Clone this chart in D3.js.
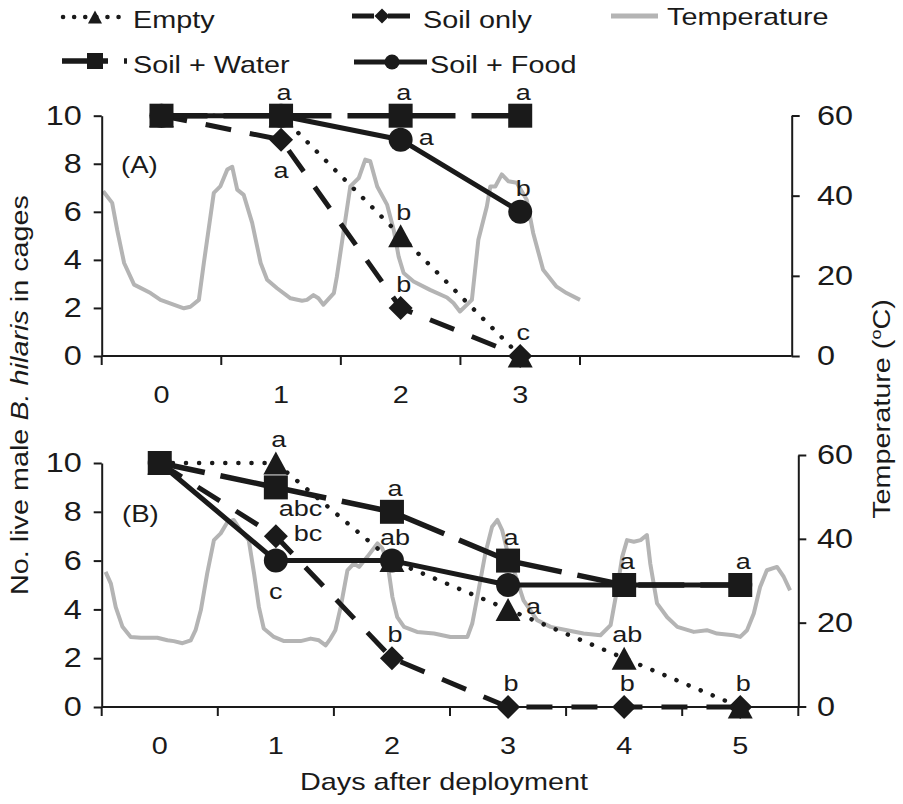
<!DOCTYPE html>
<html><head><meta charset="utf-8">
<script src="https://cdn.jsdelivr.net/npm/d3@7/dist/d3.min.js"></script>
<style>
body{margin:0;background:#fff}
svg{display:block}
text{font-family:"Liberation Sans",Arial,Helvetica,sans-serif;fill:#1a1a1a}
</style>
</head><body>
<svg id="chart" width="903" height="804"></svg>
<script>
// ---------------- DATA ----------------
const daysA = [0, 1, 2, 3];
const daysB = [0, 1, 2, 3, 4, 5];

const emptyA = [10, 10, 5, 0];
const soilA  = [10, 9, 2, 0];
const waterA = [10, 10, 10, 10];
const foodA  = [10, 10, 9, 6];

const emptyB = [10, 10, 6, 4, 2, 0];
const soilB  = [10, 7, 2, 0, 0, 0];
const waterB = [10, 9, 8, 6, 5, 5];
const foodB  = [10, 6, 6, 5, 5, 5];

// significance letters and where they sit relative to the point
const emptyLabA = ["", "", "b", "c"];        const emptyPosA = ["", "", "above", "above"];
const soilLabA  = ["", "a", "b", ""];        const soilPosA  = ["", "below", "above", ""];
const waterLabA = ["", "a", "a", "a"];       const waterPosA = ["", "above", "above", "above"];
const foodLabA  = ["", "", "a", "b"];        const foodPosA  = ["", "", "right", "above"];

const emptyLabB = ["", "a", "", "a", "ab", "b"];   const emptyPosB = ["", "above", "", "right", "above", "above"];
const soilLabB  = ["", "bc", "b", "b", "b", ""];   const soilPosB  = ["", "right", "above", "above", "above", ""];
const waterLabB = ["", "abc", "a", "a", "a", "a"]; const waterPosB = ["", "belowright", "above", "above", "above", "above"];
const foodLabB  = ["", "c", "ab", "", "", ""];     const foodPosB  = ["", "below", "above", "", "", ""];

// temperature (hours from start of deployment, degC)
const tempHoursA = [0.3,2.1,3.1,4.5,6.5,9.8,11.8,16.5,17.8,19.5,20.5,22.5,23.8,25.2,26.2,27.2,28.5,30.2,31.9,33.2,35.2,37.9,40.2,41.2,42.5,43.5,44.5,46.6,47.2,48.6,49.9,51.6,52.9,53.9,55.3,57.3,58.6,59.6,60.6,62.6,65.9,69.3,70.6,71.9,74.3,75.6,77.3,78.0,79.0,80.3,81.6,83.3,85.3,86.6,88.6,91.3,93.3,96.0];
const tempA = [41.1,38.2,31.5,23.2,17.8,15.7,14.0,11.9,12.3,14.0,23.2,40.7,42.3,46.5,47.2,41.5,40.2,33.2,23.2,19.0,16.9,14.4,13.8,14.0,15.2,14.4,12.8,15.7,19.8,31.5,42.3,44.4,49.0,48.6,42.3,37.7,31.5,24.8,20.7,18.6,16.5,14.6,13.2,11.1,14.0,29.0,37.3,42.3,42.3,45.3,43.6,43.2,39.0,30.7,21.5,17.3,15.7,14.0];

const tempHoursB = [0.8,1.9,2.9,4.3,6.0,8.1,11.5,13.6,14.9,16.7,18.4,19.4,20.5,21.8,23.2,24.6,26.0,27.3,28.7,30.4,31.5,32.5,33.5,35.6,37.7,41.1,43.2,44.9,46.3,47.3,48.3,49.4,50.8,52.1,53.2,54.9,57.0,58.0,59.0,60.1,61.1,62.5,65.2,68.7,72.1,75.6,76.6,77.9,79.3,80.7,81.8,82.8,83.8,85.2,87.2,90.0,92.8,96.2,99.6,103.1,105.2,106.5,107.6,108.6,110.0,111.4,112.7,113.4,114.8,116.9,119.0,122.4,125.1,127.2,130.6,132.0,133.4,134.8,136.1,137.5,139.6,141.0,142.3];
const tempB = [32.1,29.3,23.7,19.0,16.6,16.4,16.4,15.8,15.6,15.1,15.8,18.2,23.0,31.7,39.7,41.3,44.0,44.5,42.0,39.7,31.7,23.7,18.6,16.6,15.6,15.6,16.2,15.8,14.6,16.2,18.2,23.7,32.5,34.1,33.3,35.7,38.9,37.7,34.9,26.1,21.3,19.0,17.8,17.4,16.6,16.6,19.8,27.7,36.5,42.9,44.5,42.0,37.3,32.5,25.3,20.6,19.0,18.2,17.4,17.0,19.4,27.7,35.7,39.7,39.3,39.7,40.9,34.1,24.6,21.3,19.0,17.8,18.2,17.4,17.0,16.6,18.2,22.2,28.5,32.5,33.3,30.9,27.7];

const countTicks = [0, 2, 4, 6, 8, 10];
const tempTicks = [0, 20, 40, 60];

const legendNames = ["Empty", "Soil only", "Temperature", "Soil + Water", "Soil + Food"];
const yTitleParts = ["No. live male ", "B. hilaris", " in cages"];
const xTitle = "Days after deployment";

// ---------------- STYLE / HELPERS ----------------
const INK = "#1a1a1a", GRAY = "#b4b4b4", SX = 1.2;
const svg = d3.select("#chart");

const styles = {
  empty: {dash: "0.1 13", width: 4.5, cap: "round", shape: "triangle"},
  soil:  {dash: "26 19", width: 5, cap: "butt", shape: "diamond"},
  water: {dash: "46 16", width: 5.5, cap: "butt", shape: "square"},
  food:  {dash: null, width: 5, cap: "butt", shape: "circle"}
};

function stext(parent, x, y, str, size, anchor) {
  return parent.append("text")
    .attr("transform", `translate(${x},${y}) scale(${SX},1)`)
    .attr("text-anchor", anchor || "start")
    .attr("font-size", size)
    .text(str);
}

function markerPath(shape, s) {
  if (shape === "triangle") { const w = s * 1.04, h = s * 0.96; return `M0,${-h/2}L${w/2},${h/2}L${-w/2},${h/2}Z`; }
  if (shape === "diamond") return `M0,${-s/2}L${s/2},0L0,${s/2}L${-s/2},0Z`;
  if (shape === "square") return `M${-s/2},${-s/2}H${s/2}V${s/2}H${-s/2}Z`;
  const r = s / 2; return `M${r},0A${r},${r} 0 1,1 ${-r},0A${r},${r} 0 1,1 ${r},0Z`;
}
const markerSize = {triangle: 24, diamond: 24, square: 24, circle: 24};

function styleAxis(g) {
  g.attr("font-family", null).attr("font-size", null);
  g.selectAll(".domain").attr("stroke", INK).attr("stroke-width", 2);
  g.selectAll(".tick line").attr("stroke", INK).attr("stroke-width", 2);
  g.selectAll(".tick text").attr("fill", INK).attr("font-size", 27);
}

// ---------------- PANELS ----------------
function drawPanel(cfg) {
  const g = svg.append("g");
  const x = d3.scaleBand().domain(cfg.days).range([cfg.left, cfg.bandRight]);
  const y = d3.scaleLinear().domain([0, 10]).range([cfg.bottom, cfg.top]);
  const yT = d3.scaleLinear().domain([0, 60]).range([cfg.tBottom, cfg.tTop]);
  const xT = d3.scaleLinear().domain([0, cfg.days.length * 24]).range([cfg.left, cfg.bandRight]);

  // temperature trace
  g.append("path")
    .datum(d3.zip(cfg.tempHours, cfg.temp))
    .attr("d", d3.line().x(d => xT(d[0])).y(d => yT(d[1])))
    .attr("fill", "none").attr("stroke", GRAY).attr("stroke-width", 4)
    .attr("stroke-linejoin", "round");

  // left axis
  const ax = g.append("g").attr("transform", `translate(${cfg.left},0)`)
    .call(d3.axisLeft(y).tickValues(countTicks).tickSizeInner(8).tickSizeOuter(0).tickFormat(d3.format("d")));
  styleAxis(ax);
  ax.selectAll(".tick text").attr("x", -20 / SX).attr("transform", `scale(${SX},1)`);

  // right axis
  const ar = g.append("g").attr("transform", `translate(${cfg.right},0)`)
    .call(d3.axisRight(yT).tickValues(tempTicks).tickSizeInner(8).tickSizeOuter(0).tickFormat(d3.format("d")));
  styleAxis(ar);
  ar.selectAll(".tick text").attr("x", (817 - cfg.right) / SX).attr("transform", `scale(${SX},1)`);

  // x axis: line to the secondary axis, ticks at category edges, labels at centres
  g.append("line").attr("x1", cfg.left).attr("x2", cfg.right).attr("y1", cfg.bottom).attr("y2", cfg.bottom)
    .attr("stroke", INK).attr("stroke-width", 2);
  const edges = cfg.days.map(d => x(d)).concat([x.range()[1]]);
  g.selectAll(".xt").data(edges).join("line")
    .attr("x1", d => d).attr("x2", d => d).attr("y1", cfg.bottom).attr("y2", cfg.bottom + 9)
    .attr("stroke", INK).attr("stroke-width", 2);
  cfg.days.forEach(d => stext(g, x(d) + x.bandwidth() / 2, cfg.bottom + 47, String(d), 24, "middle"));

  // panel tag
  stext(g, cfg.tagX, cfg.tagY, cfg.tag, 23, "start");

  // series
  const cx = d => x(d) + x.bandwidth() / 2;
  const order = ["soil", "empty", "food", "water"];
  order.forEach(key => {
    const st = styles[key], vals = cfg.series[key];
    const pts = cfg.days.map((d, i) => [cx(d), y(vals[i])]);
    g.append("path").datum(pts).attr("d", d3.line())
      .attr("fill", "none").attr("stroke", INK).attr("stroke-width", st.width)
      .attr("stroke-dasharray", st.dash).attr("stroke-linecap", st.cap).attr("stroke-linejoin", "round");
    g.selectAll(null).data(pts).join("path")
      .attr("transform", p => `translate(${p[0]},${p[1]})`)
      .attr("d", markerPath(st.shape, markerSize[st.shape])).attr("fill", INK);
  });

  // significance letters
  order.forEach(key => {
    const vals = cfg.series[key], labs = cfg.labels[key], pos = cfg.pos[key];
    cfg.days.forEach((d, i) => {
      if (!labs[i]) return;
      const px = cx(d), py = y(vals[i]);
      let dx = 3, dy = -16, anc = "middle";
      if (pos[i] === "below") { dx = 0; dy = 38; }
      else if (pos[i] === "right") { dx = 18; dy = 5; anc = "start"; }
      else if (pos[i] === "belowright") { dx = 3; dy = 29; anc = "start"; }
      stext(g, px + dx, py + dy, labs[i], 22.5, anc);
    });
  });
}

drawPanel({
  days: daysA, left: 101.7, bandRight: 580, right: 791.7,
  top: 115.7, bottom: 356, tTop: 115.5, tBottom: 356,
  tempHours: tempHoursA, temp: tempA, tag: "(A)", tagX: 121, tagY: 173,
  series: {empty: emptyA, soil: soilA, water: waterA, food: foodA},
  labels: {empty: emptyLabA, soil: soilLabA, water: waterLabA, food: foodLabA},
  pos: {empty: emptyPosA, soil: soilPosA, water: waterPosA, food: foodPosA}
});

drawPanel({
  days: daysB, left: 101.7, bandRight: 798.3, right: 798.3,
  top: 463, bottom: 707, tTop: 455, tBottom: 706.5,
  tempHours: tempHoursB, temp: tempB, tag: "(B)", tagX: 122, tagY: 522,
  series: {empty: emptyB, soil: soilB, water: waterB, food: foodB},
  labels: {empty: emptyLabB, soil: soilLabB, water: waterLabB, food: foodLabB},
  pos: {empty: emptyPosB, soil: soilPosB, water: waterPosB, food: foodPosB}
});

// ---------------- TITLES ----------------
const yt = svg.append("text")
  .attr("transform", `translate(28,395) rotate(-90) scale(${SX},1)`)
  .attr("text-anchor", "middle").attr("font-size", 24);
yt.append("tspan").text(yTitleParts[0]);
yt.append("tspan").attr("font-style", "italic").text(yTitleParts[1]);
yt.append("tspan").text(yTitleParts[2]);

const rt = svg.append("text")
  .attr("transform", `translate(890,409) rotate(-90) scale(${SX},1)`)
  .attr("text-anchor", "middle").attr("font-size", 24);
rt.append("tspan").text("Temperature (");
rt.append("tspan").attr("font-size", 15).attr("dy", -9).text("o");
rt.append("tspan").attr("dy", 9).text("C)");

stext(svg, 444, 790, xTitle, 24, "middle");

// ---------------- LEGEND ----------------
const lg = svg.append("g");
function legendItem(key, x1, x2, mx, ly, tx, ty, name, msize, dash) {
  const st = styles[key];
  lg.append("line").attr("x1", x1).attr("x2", x2).attr("y1", ly).attr("y2", ly)
    .attr("stroke", INK).attr("stroke-width", st.width)
    .attr("stroke-dasharray", dash).attr("stroke-linecap", st.cap);
  lg.append("path").attr("transform", `translate(${mx},${ly})`).attr("d", markerPath(st.shape, msize)).attr("fill", INK);
  stext(lg, tx, ty, name, 24, "start");
}
legendItem("empty", 63, 119, 95, 17, 133, 28, legendNames[0], 13.5, "0.1 11");
legendItem("soil", 352, 414, 382, 16, 423, 28, legendNames[1], 15, "22 14");
legendItem("water", 62, 127, 95, 61, 133, 73, legendNames[3], 16, "46 16");
legendItem("food", 354, 427, 392, 62, 430, 73, legendNames[4], 15, null);
lg.append("line").attr("x1", 611).attr("x2", 658).attr("y1", 16).attr("y2", 16)
  .attr("stroke", GRAY).attr("stroke-width", 5);
stext(lg, 667, 25, legendNames[2], 24, "start");
</script>
</body></html>
